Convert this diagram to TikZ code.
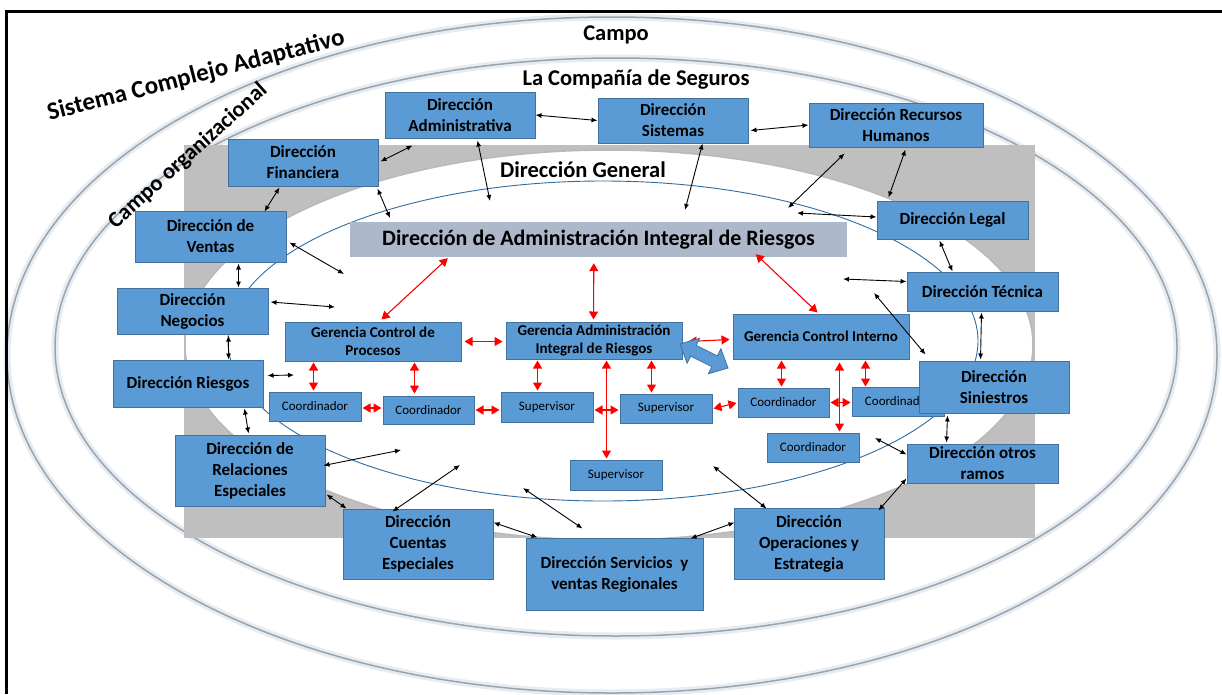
\documentclass[tikz,border=0pt]{standalone}
\usepackage{fontspec}
\setmainfont{Carlito}
\usetikzlibrary{arrows.meta,calc}
\definecolor{boxblue}{HTML}{5B9BD5}
\definecolor{boxedge}{HTML}{41719C}
\definecolor{dairfill}{HTML}{ADB9CA}
\definecolor{bandgray}{HTML}{BFBFBF}
\definecolor{ringgray}{HTML}{9DA3AB}
\definecolor{ringglow}{HTML}{E6ECF4}
\definecolor{innerblue}{HTML}{2E6DA4}
\definecolor{arrred}{HTML}{FF0000}
\tikzset{
  dbox/.style={draw=boxedge, fill=boxblue, line width=1pt, inner sep=0pt, align=center,
    text=black, font=\fontsize{17}{21}\selectfont\bfseries},
  gbox/.style={dbox, font=\fontsize{15}{18.5}\selectfont\bfseries},
  sbox/.style={dbox, font=\fontsize{13}{15}\selectfont},
  lbl/.style={inner sep=0pt, text=black, font=\fontsize{22.5}{26}\selectfont\bfseries},
  blk/.style={{Latex[length=6pt,width=5pt]}-{Latex[length=6pt,width=5pt]}, line width=0.9pt, black},
  redarr/.style={{Triangle[length=8pt,width=9pt]}-{Triangle[length=8pt,width=9pt]}, line width=1.1pt, arrred},
  ringglowline/.style={draw=ringglow, line width=7pt},
  ringline/.style={draw=ringgray, line width=1.5pt},
}
\begin{document}
\begin{tikzpicture}[x=1pt,y=-1pt]
\useasboundingbox (0,0) rectangle (1222,694);
\fill[white] (0,0) rectangle (1222,694);
% rings
\draw[ringglowline] (612,355) ellipse [x radius=605, y radius=338];
\draw[ringline] (612,355) ellipse [x radius=605, y radius=338];
\draw[ringglowline] (616,347) ellipse [x radius=561, y radius=289];
\draw[ringline] (616,347) ellipse [x radius=561, y radius=289];
% gray band and Direccion General ellipse
\fill[bandgray] (184,145) rectangle (1035,538);
\begin{scope}
  \clip (184,145) rectangle (1035,538);
  \fill[white] (609,345) ellipse [x radius=424, y radius=195];
  \draw[draw=gray!55, line width=1.5pt] (609,345) ellipse [x radius=424, y radius=195];
\end{scope}
% inner blue ellipse
\draw[innerblue, line width=0.9pt] (603,341) ellipse [x radius=375, y radius=160];
% frame
\draw[line width=3pt] (6,694) -- (6,11.5) -- (1222,11.5);
% labels
\node[lbl] (tcampo) at (616,35) {Campo};
\node[lbl] (tcia) at (636,80) {La Compañía de Seguros};
\node[lbl] (tdg) at (583,170) {Dirección General};
\node[lbl, font=\fontsize{25}{29}\selectfont\bfseries, rotate=14.5] (tsca) at (196,76) {Sistema Complejo Adaptativo};
\node[lbl, rotate=42] (tco) at (188,156) {Campo organizacional};
% DAIR
\node[draw=none, fill=dairfill, minimum width=497, minimum height=35, inner sep=0pt,
  font=\fontsize{22}{26}\selectfont\bfseries] (dair) at (598.5,239.5) {Dirección de Administración Integral de Riesgos};
% outer boxes
\node[dbox, minimum width=150, minimum height=46] (adm) at (460,115) {Dirección\\Administrativa};
\node[dbox, minimum width=150, minimum height=45] (sis) at (673,120.5) {Dirección\\Sistemas};
\node[dbox, minimum width=174, minimum height=44] (rrhh) at (896,125) {Dirección Recursos\\Humanos};
\node[dbox, minimum width=150, minimum height=47] (fin) at (303,162.5) {Dirección\\Financiera};
\node[dbox, minimum width=151, minimum height=51] (ven) at (210.5,236.5) {Dirección de\\Ventas};
\node[dbox, minimum width=151, minimum height=38] (leg) at (952.5,220) {Dirección Legal};
\node[dbox, minimum width=151, minimum height=39] (tec) at (982.5,291.5) {Dirección Técnica};
\node[dbox, minimum width=151, minimum height=46] (neg) at (192.5,311) {Dirección\\Negocios};
\node[dbox, minimum width=150, minimum height=47] (rie) at (188,383.5) {Dirección Riesgos};
\node[dbox, minimum width=150, minimum height=71] (rel) at (250,470.5) {Dirección de\\Relaciones\\Especiales};
\node[dbox, minimum width=150, minimum height=70] (cue) at (418,544) {Dirección\\Cuentas\\Especiales};
\node[dbox, minimum width=177, minimum height=72] (ser) at (614.5,574) {Dirección Servicios~ y\\ventas Regionales};
\node[dbox, minimum width=150, minimum height=71] (ope) at (809,543.5) {Dirección\\Operaciones y\\Estrategia};
\node[dbox, minimum width=151, minimum height=39] (otr) at (982.5,463.5) {Dirección otros\\ramos};
% inner boxes
\node[gbox, minimum width=176, minimum height=39] (gcp) at (373,341.5) {Gerencia Control de\\Procesos};
\node[gbox, minimum width=176, minimum height=37] (gai) at (594,340.5) {Gerencia Administración\\Integral de Riesgos};
\node[gbox, minimum width=176, minimum height=45] (gci) at (821,336.5) {Gerencia Control Interno};
\node[sbox, minimum width=92, minimum height=29] (co1) at (315,406.5) {Coordinador};
\node[sbox, minimum width=91, minimum height=28] (co2) at (428.5,410) {Coordinador};
\node[sbox, minimum width=92, minimum height=30] (su1) at (547,407) {Supervisor};
\node[sbox, minimum width=92, minimum height=29] (su2) at (666,408.5) {Supervisor};
\node[sbox, minimum width=91, minimum height=29] (co3) at (783.5,402.5) {Coordinador};
\node[sbox, minimum width=92, minimum height=29] (co4) at (898,401.5) {Coordinador};
\node[sbox, minimum width=92, minimum height=29] (co5) at (813,447.5) {Coordinador};
\node[sbox, minimum width=92, minimum height=30] (su3) at (616,475) {Supervisor};
\node[dbox, minimum width=150, minimum height=52] (sin) at (994,387) {Dirección\\Siniestros};
% free ends
\coordinate (p1) at (390,218);
\coordinate (p2) at (490,201);
\coordinate (p3) at (685,210);
\coordinate (p4) at (788,208);
\coordinate (p5) at (797,213);
\coordinate (p6) at (843,279);
\coordinate (p7) at (874,293);
\coordinate (p8) at (875,438);
\coordinate (p9) at (713,466);
\coordinate (p10) at (523,488);
\coordinate (p11) at (460,465);
\coordinate (p12) at (401,450);
\coordinate (p13) at (294,375);
\coordinate (p14) at (335,307);
\coordinate (p15) at (344,274);
% black arrows
\draw[blk] (adm.east) -- (sis.west);
\draw[blk] ($(sis.east)+(2,10)$) -- (rrhh.west);
\draw[blk] ($(fin.east)+(2,-1)$) -- ($(adm.south west)+(28,7)$);
\draw[blk] ($(fin.south east)+(-1,2)$) -- (p1);
\draw[blk] ($(fin.south west)+(52,1)$) -- ($(ven.north east)+(-22,1)$);
\draw[blk] ($(adm.south west)+(93,2)$) -- (p2);
\draw[blk] ($(sis.south west)+(105,0)$) -- (p3);
\draw[blk] ($(rrhh.south west)+(36,6)$) -- (p4);
\draw[blk] ($(rrhh.south west)+(97,2)$) -- ($(leg.north west)+(12,-3)$);
\draw[blk] ($(leg.west)+(0,-3)$) -- (p5);
\draw[blk] ($(leg.south west)+(63,1)$) -- ($(tec.north west)+(46,0)$);
\draw[blk] ($(tec.west)+(0,-10)$) -- (p6);
\draw[blk] ($(tec.south west)+(75,1)$) -- ($(sin.north west)+(62,-1)$);
\draw[blk] ($(sin.north west)+(7,-6)$) -- (p7);
\draw[blk] ($(sin.south west)+(29,2)$) -- ($(otr.north west)+(40,-1)$);
\draw[blk] ($(otr.north west)+(0,11)$) -- (p8);
\draw[blk] ($(otr.south west)+(0,-5)$) -- ($(ope.north east)+(-6,3)$);
\draw[blk] ($(ope.north west)+(33,1)$) -- (p9);
\draw[blk] ($(ope.north west)+(1,15)$) -- ($(ser.north east)+(-13,1)$);
\draw[blk] ($(ser.north west)+(57,-9)$) -- (p10);
\draw[blk] ($(cue.north east)+(0,14)$) -- ($(ser.north west)+(12,0)$);
\draw[blk] ($(cue.north west)+(50,3)$) -- (p11);
\draw[blk] ($(rel.south east)+(1,-12)$) -- ($(cue.north west)+(4,0)$);
\draw[blk] ($(rel.north east)+(-2,31)$) -- (p12);
\draw[blk] ($(rie.south west)+(132,1)$) -- ($(rel.north west)+(74,-1)$);
\draw[blk] ($(rie.east)+(4,-8)$) -- (p13);
\draw[blk] ($(neg.south west)+(112,1)$) -- ($(rie.north west)+(116,0)$);
\draw[blk] ($(neg.east)+(2,-9)$) -- (p14);
\draw[blk] ($(ven.south west)+(104,1)$) -- ($(neg.north west)+(122,0)$);
\draw[blk] ($(ven.north east)+(3,32)$) -- (p15);
% red arrows
\draw[redarr] ($(gcp.north west)+(97,-2)$) -- ($(dair.south west)+(98,1)$);
\draw[redarr] ($(gai.north west)+(88,-2)$) -- ($(dair.south west)+(244,6)$);
\draw[redarr] ($(gci.north west)+(85,-1)$) -- ($(dair.south west)+(406,-3)$);
\draw[redarr] ($(gcp.east)+(3,0)$) -- ($(gai.west)+(-3,1)$);
\draw[redarr] ($(gai.east)+(6,1)$) -- ($(gci.west)+(-3,3)$);
\draw[redarr] ($(gcp.south west)+(29,1)$) -- ($(co1.north west)+(45,-1)$);
\draw[redarr] ($(gcp.south west)+(130,1)$) -- ($(co2.north west)+(32,-2)$);
\draw[redarr] ($(co1.east)+(1,1.5)$) -- ($(co2.west)+(-1,-2)$);
\draw[redarr] ($(co2.east)+(1,0)$) -- ($(su1.west)+(-1,3)$);
\draw[redarr] ($(gai.south west)+(32,1)$) -- ($(su1.north west)+(37,-1)$);
\draw[redarr] ($(su1.east)+(1,3)$) -- ($(su2.west)+(-1,1.5)$);
\draw[redarr] ($(gai.south west)+(146,1)$) -- ($(su2.north west)+(32,-1)$);
\draw[redarr] ($(gai.south west)+(101,1)$) -- ($(su3.north west)+(37,-1)$);
\draw[redarr] ($(su2.east)+(1,0)$) -- ($(co3.west)+(-1,0.5)$);
\draw[redarr] ($(gci.south west)+(49,1)$) -- ($(co3.north west)+(44,-1)$);
\draw[redarr] ($(gci.south west)+(107,3)$) -- ($(co5.north west)+(73,-1)$);
\draw[redarr] ($(co3.east)+(1,0)$) -- ($(co4.west)+(-1,1)$);
\draw[redarr] ($(gci.south west)+(133,1)$) -- ($(co4.north west)+(14,0)$);
% blue block double arrow (tilted)
\draw[fill=boxblue, draw=boxedge, line width=0.8pt, line join=miter]
  (680,344) -- (699.7,338.2) -- (696.1,345.3) -- (717.3,355.9) -- (720.9,348.8)
  -- (728,368) -- (708.3,373.8) -- (711.9,366.7) -- (690.7,356.1) -- (687.1,363.2) -- cycle;
\end{tikzpicture}
\end{document}
